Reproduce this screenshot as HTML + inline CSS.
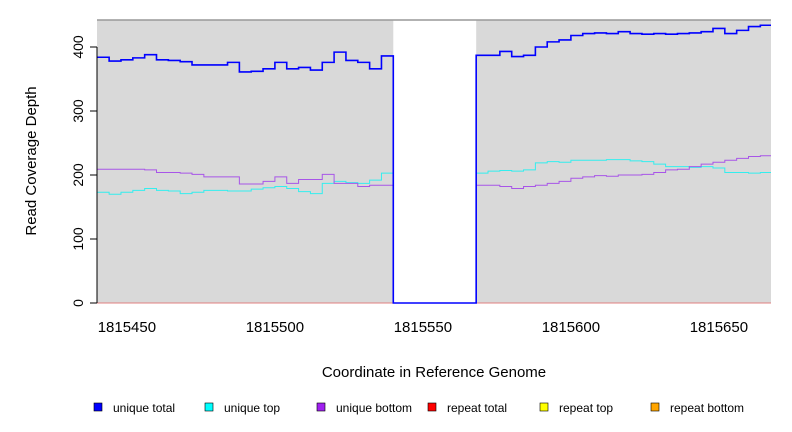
<!DOCTYPE html>
<html><head><meta charset="utf-8"><style>
body{margin:0;background:#fff;}
svg{display:block;font-family:"Liberation Sans",sans-serif;}
</style></head><body>
<svg id="chart" width="792" height="432" viewBox="0 0 792 432">
<g id="plot"></g>
</svg>
<script>
const leftStart = 1815440;
const rightStart = 1815568;
const stepSize = 4;
const uniqueTotalLeft = [384,378,380,383,388,380,379,377,372,372,372,376,361,362,366,376,366,368,364,376,392,379,376,366,386];
const uniqueTopLeft = [173,170,173,176,179,176,175,171,173,176,176,175,175,178,180,182,179,174,171,187,190,188,187,192,203];
const uniqueBottomLeft = [209,209,209,209,208,204,204,203,201,197,197,197,186,186,190,197,187,193,193,201,187,187,182,184,184];
const uniqueTotalRight = [387,387,393,385,387,400,408,411,418,421,422,421,424,421,420,421,420,421,422,424,429,421,426,432,434];
const uniqueTopRight = [203,206,207,206,208,219,221,220,223,223,223,224,224,222,221,217,213,213,212,213,211,204,204,203,204];
const uniqueBottomRight = [184,184,182,179,182,184,187,190,195,197,199,198,200,200,201,204,208,209,213,217,220,223,226,229,230];
const xTicks = [1815450,1815500,1815550,1815600,1815650];
const yTicks = [0,100,200,300,400];
const legendLabels = ["unique total","unique top","unique bottom","repeat total","repeat top","repeat bottom"];
const legendColors = ["#0000ff","#00ffff","#a020f0","#ff0000","#ffff00","#ffa500"];

const X0=97,X1=771,Y0=20,Y1=303;
const xMin=1815439.9,xMax=1815667.6,yMin=0,yMax=442.2;
const xs=v=>X0+(v-xMin)/(xMax-xMin)*(X1-X0);
const ys=v=>Y1-(v-yMin)/(yMax-yMin)*(Y1-Y0);
const NS="http://www.w3.org/2000/svg";
const g=document.getElementById('plot');
function mk(t,a,txt){const e=document.createElementNS(NS,t);for(const k in a)e.setAttribute(k,a[k]);if(txt!=null)e.textContent=txt;g.appendChild(e);return e;}

const gapL=leftStart+stepSize*uniqueTotalLeft.length, gapR=rightStart;
let e;
e=mk('rect',{x:X0,y:Y0,width:xs(gapL)-X0,height:Y1-Y0,fill:'#d9d9d9'});


e=mk('rect',{x:xs(gapR),y:Y0,width:X1-xs(gapR),height:Y1-Y0,fill:'#d9d9d9'});


e=mk('line',{x1:X0,y1:Y0,x2:X1,y2:Y0,stroke:'#999',"stroke-width":1.5});


e=mk('line',{x1:X0,y1:Y1,x2:X1,y2:Y1,stroke:'#e08080',"stroke-width":1});



function stepPath(start,vals,from0,to0){
  let d='';let x=xs(start);
  if(from0)d='M'+x+','+ys(0)+'L'+x+','+ys(vals[0]);else d='M'+x+','+ys(vals[0]);
  vals.forEach((v,i)=>{const xa=xs(start+i*stepSize),xb=Math.min(X1,xs(start+(i+1)*stepSize));d+='L'+xa+','+ys(v)+'L'+xb+','+ys(v);});
  if(to0){d+='L'+xs(start+vals.length*stepSize)+','+ys(0);}
  return d;
}
const series=[
 ['unique-top',uniqueTopLeft,uniqueTopRight,'#33eeee',1],
 ['unique-bottom',uniqueBottomLeft,uniqueBottomRight,'#a855e8',1],
];
series.forEach(s=>{
 e=mk('path',{d:stepPath(leftStart,s[1]),fill:'none',stroke:s[3],"stroke-width":s[4]});
 
 
 e=mk('path',{d:stepPath(rightStart,s[2]),fill:'none',stroke:s[3],"stroke-width":s[4]});
 
 
});
e=mk('path',{d:stepPath(leftStart,uniqueTotalLeft,false,true)+'L'+xs(gapR)+','+ys(0)+stepPath(rightStart,uniqueTotalRight,true,false).replace(/^M/,'L'),fill:'none',stroke:'#0000ff',"stroke-width":1.6});



// y axis
e=mk('line',{x1:X0,y1:ys(0),x2:X0,y2:ys(400),stroke:'#000'});


yTicks.forEach(t=>{
 e=mk('line',{x1:X0-7,y1:ys(t),x2:X0,y2:ys(t),stroke:'#000'});
 
 
 e=mk('text',{x:0,y:0,transform:`translate(${X0-14},${ys(t)}) rotate(-90)`,"text-anchor":'middle',"font-size":14},t);
 
 
});
e=mk('text',{x:0,y:0,transform:'translate(36,161) rotate(-90)',"text-anchor":'middle',"font-size":15},'Read Coverage Depth');


xTicks.forEach(t=>{
 e=mk('text',{x:xs(t),y:332,"text-anchor":'middle',"font-size":15},t);
 
 
});
e=mk('text',{x:434,y:377,"text-anchor":'middle',"font-size":15},'Coordinate in Reference Genome');


const legX=[94,205,317,428,540,651];
legendLabels.forEach((l,i)=>{
 e=mk('rect',{x:legX[i],y:403,width:8,height:8,fill:legendColors[i],stroke:'#000',"stroke-width":0.6});
 
 
 e=mk('text',{x:legX[i]+19,y:412,"font-size":12},l);
 
 
});
</script>
</body></html>
